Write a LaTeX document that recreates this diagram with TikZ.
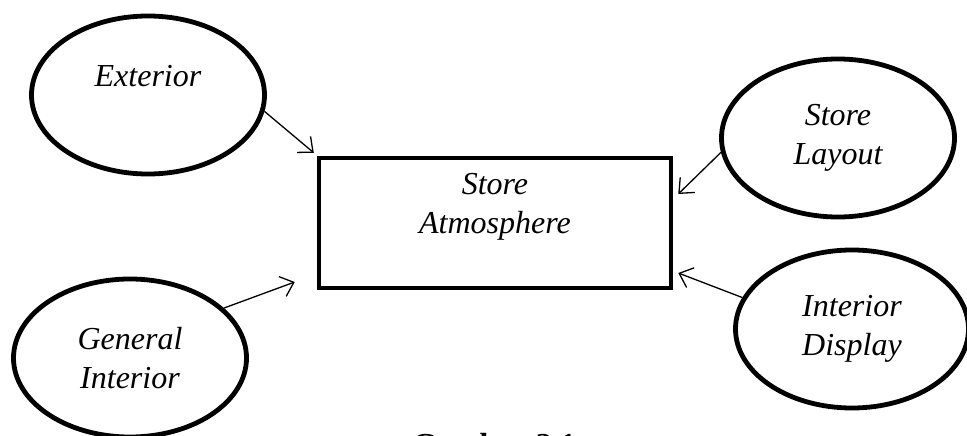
\documentclass[tikz,border=0pt]{standalone}
\usepackage{fontspec}
\setmainfont{Liberation Serif}
\usetikzlibrary{shapes.geometric,arrows.meta}

\begin{document}
\begin{tikzpicture}[x=1pt,y=-1pt,
  txt/.style={font=\fontsize{32}{39}\selectfont\itshape, align=center},
  oval/.style={ellipse, draw, line width=4.8pt, inner sep=0pt,
    minimum width=233pt, minimum height=158pt, txt},
  mainbox/.style={rectangle, draw, line width=4.5pt, inner sep=0pt,
    minimum width=352pt, minimum height=130pt, txt},
  feed/.style={line width=1.3pt, -{Straight Barb[length=12pt,width=21pt]}}
]
\useasboundingbox (0,0) rectangle (967,436);
\clip (0,0) rectangle (967,436);

% central concept
\node[mainbox] (atm) at (495,223) {Store\\Atmosphere\\\mbox{}};

% contributing factors
\node[oval] (ext) at (148,95)  {Exterior\\\mbox{}};
\node[oval] (gen) at (130,358) {General\\Interior};
\node[oval] (lay) at (838,138) {Store\\Layout};
\node[oval] (dis) at (852,329) {Interior\\Display};

% influences
\draw[feed] (ext.-8.6) -- ([shift={(-3,-3)}]atm.north west);
\draw[feed] (gen.28) -- ([shift={(-22,59)}]atm.west);
\draw[feed] (lay.187) -- ([shift={(5,-29)}]atm.east);
\draw[feed] (dis.164) -- ([shift={(5,50)}]atm.east);

% caption
\node[font=\fontsize{32}{39}\selectfont\bfseries, anchor=base] (cap) at (494,455) {Gambar 2.1};
\end{tikzpicture}
\end{document}
